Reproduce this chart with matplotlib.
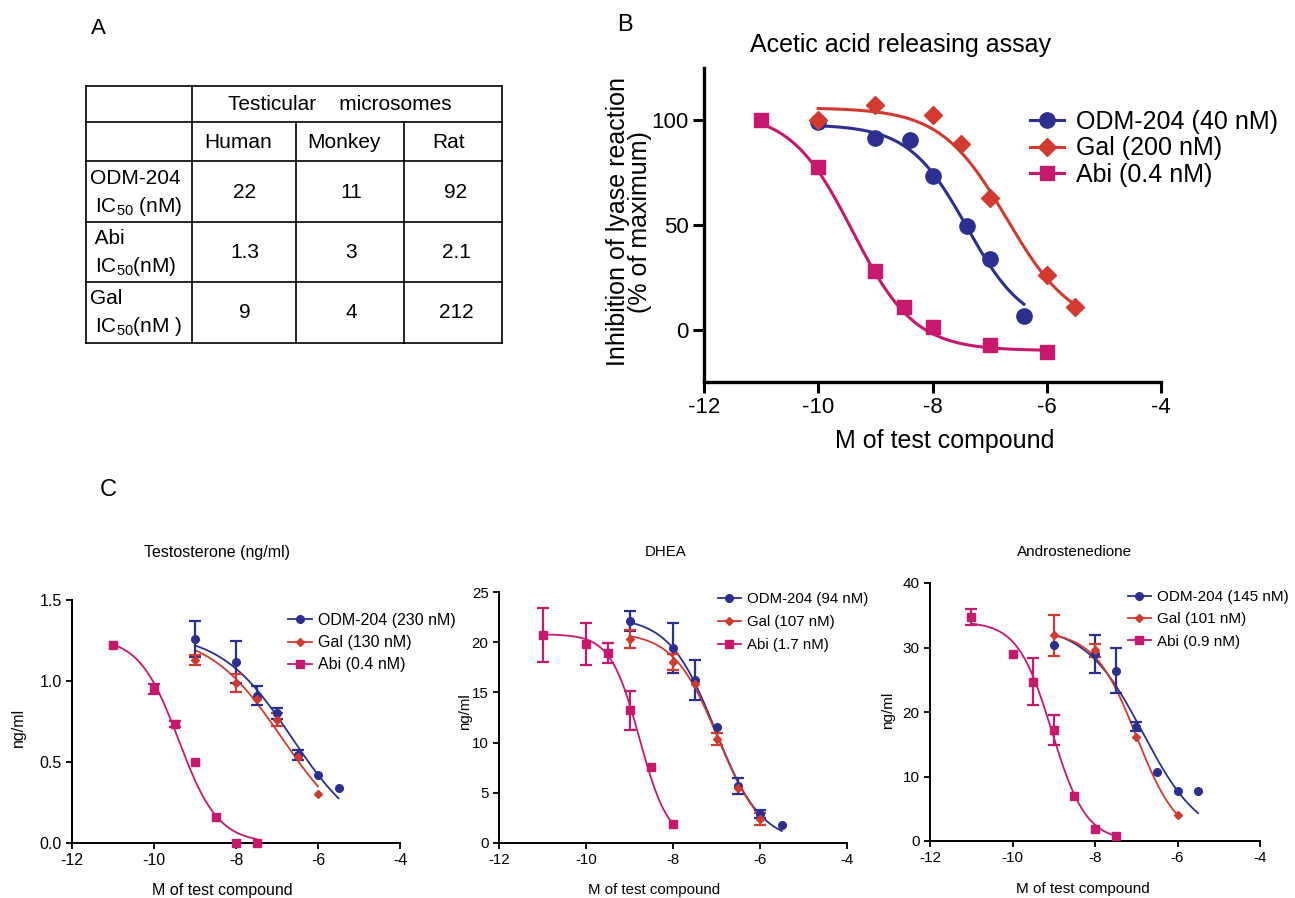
import numpy as np
import matplotlib
matplotlib.use("Agg")
import matplotlib.pyplot as plt

plt.rcParams['font.family'] = ['Liberation Sans', 'DejaVu Sans']
plt.rcParams['mathtext.fontset'] = 'custom'
plt.rcParams['mathtext.rm'] = 'Liberation Sans'
plt.rcParams['axes.unicode_minus'] = False

W, H = 1295, 898

BLUE = '#2b2f90'
RED = '#d23a30'
MAG = '#c8186e'

# ---- panel A table ----
tbl_header = "Testicular    microsomes"
tbl_species = ["Human", "Monkey", "Rat"]
tbl_rows = [("ODM-204", "IC$_{50}$ (nM)"), (" Abi", "IC$_{50}$(nM)"), ("Gal", "IC$_{50}$(nM )")]
tbl_values = [["22", "11", "92"], ["1.3", "3", "2.1"], ["9", "4", "212"]]

# ---- panel B: acetic acid releasing assay ----
b_names = ["ODM-204", "Gal", "Abi"]
b_ic50 = [40, 200, 0.4]
b_odm_x = [-10, -9, -8.4, -8, -7.4, -7, -6.4]
b_odm_y = [99, 91.5, 90.4, 73.6, 49.6, 33.6, 6.6]
b_gal_x = [-10, -9, -8, -7.5, -7, -6, -5.5]
b_gal_y = [100, 107.2, 102.7, 88.8, 62.7, 26.3, 10.9]
b_abi_x = [-11, -10, -9, -8.5, -8, -7, -6]
b_abi_y = [100, 77.6, 27.8, 10.9, 1.1, -7.2, -10.9]
b_fit = [(98, 0, 0.85), (106, 0, 0.75), (104, -10, 0.8)]  # top, bottom, hill

# ---- panel C ----
c_titles = ["Testosterone (ng/ml)", "DHEA", "Androstenedione"]
c_ic50 = [[230, 130, 0.4], [94, 107, 1.7], [145, 101, 0.9]]

t_odm_x = [-9, -8, -7.5, -7, -6.5, -6, -5.5]
t_odm_y = [1.26, 1.12, 0.91, 0.80, 0.545, 0.42, 0.34]
t_odm_e = [0.11, 0.13, 0.06, 0.035, 0.03, 0, 0]
t_gal_x = [-9, -8, -7.5, -7, -6.5, -6]
t_gal_y = [1.13, 0.99, 0.89, 0.76, 0.53, 0.30]
t_gal_e = [0.03, 0.055, 0, 0.04, 0, 0]
t_abi_x = [-11, -10, -9.5, -9, -8.5, -8, -7.5]
t_abi_y = [1.22, 0.95, 0.735, 0.50, 0.16, 0.0, 0.0]
t_abi_e = [0, 0.03, 0.02, 0, 0, 0, 0]

d_odm_x = [-9, -8, -7.5, -7, -6.5, -6, -5.5]
d_odm_y = [22.1, 19.4, 16.2, 11.6, 5.7, 2.9, 1.8]
d_odm_e = [1.0, 2.5, 2.0, 0, 0.8, 0.4, 0]
d_gal_x = [-9, -8, -7.5, -7, -6.5, -6]
d_gal_y = [20.3, 18.0, 15.8, 10.4, 5.5, 2.4]
d_gal_e = [0.9, 0.8, 0, 0.6, 0, 0.6]
d_abi_x = [-11, -10, -9.5, -9, -8.5, -8]
d_abi_y = [20.7, 19.8, 18.9, 13.2, 7.55, 1.9]
d_abi_e = [2.7, 2.1, 1.0, 1.9, 0, 0]

a_odm_x = [-9, -8, -7.5, -7, -6.5, -6, -5.5]
a_odm_y = [30.4, 29.0, 26.4, 17.7, 10.7, 7.7, 7.7]
a_odm_e = [0, 3.0, 3.5, 0.7, 0, 0, 0]
a_gal_x = [-9, -8, -7, -6]
a_gal_y = [31.9, 29.6, 16.2, 4.0]
a_gal_e = [3.2, 1.0, 0, 0]
a_abi_x = [-11, -10, -9.5, -9, -8.5, -8, -7.5]
a_abi_y = [34.7, 29.0, 24.7, 17.2, 7.0, 1.9, 0.7]
a_abi_e = [1.2, 0, 3.6, 2.3, 0, 0, 0]

c_fit = [[(1.3, 0, 0.5), (1.3, 0, 0.49), (1.27, 0, 0.9)],
         [(22.5, 0, 0.82), (21, 0, 0.85), (20.8, 0, 1.3)],
         [(33.5, 0, 0.62), (32.5, 0, 0.85), (34, 0, 1.05)]]


def four_pl(x, ic50_nm, top, bottom, hill):
    log_ic50 = np.log10(ic50_nm * 1e-9)
    return bottom + (top - bottom) / (1 + 10 ** ((x - log_ic50) * hill))


def rect(l, t, r, b):
    return [l / W, 1 - b / H, (r - l) / W, (b - t) / H]


def ax_coords(box, px, py):
    l, t, r, b = box
    return (px - l) / (r - l), (b - py) / (b - t)


fig = plt.figure(figsize=(W / 100, H / 100), dpi=100)

# ---------- A: table drawn in pixel coordinates ----------
axt = fig.add_axes([0, 0, 1, 1])
axt.set_xlim(0, W)
axt.set_ylim(H, 0)
axt.axis('off')
col_edges = [86, 192, 296, 404, 502]
row_edges = [86, 122, 161, 222, 282, 343]
lw = 1.2
for y in row_edges:
    axt.plot([col_edges[0], col_edges[-1]], [y, y], color='black', lw=lw)
for x in [col_edges[0], col_edges[1], col_edges[-1]]:
    axt.plot([x, x], [row_edges[0], row_edges[-1]], color='black', lw=lw)
for x in col_edges[2:4]:
    axt.plot([x, x], [row_edges[1], row_edges[-1]], color='black', lw=lw)
tfs = 15
axt.text(340, 104, tbl_header, fontsize=tfs, ha='center', va='center')
col_cx = [238, 344, 449]
for cx, name in zip(col_cx, tbl_species):
    axt.text(cx, 142, name, fontsize=tfs, ha='center', va='center')
row_cy = [192, 252, 312]
for i, (cy, (nm, unit)) in enumerate(zip(row_cy, tbl_rows)):
    axt.text(90, cy - 13, nm, fontsize=tfs, ha='left', va='center')
    axt.text(95, cy + 14, unit, fontsize=tfs, ha='left', va='center')
    for cx, v in zip(col_cx, tbl_values[i]):
        axt.text(cx + 7, cy, v, fontsize=tfs, ha='center', va='center')

fig.text(98 / W, 1 - 28 / H, "A", fontsize=16, ha='center', va='center')
fig.text(625 / W, 1 - 25 / H, "B", fontsize=17, ha='center', va='center')
fig.text(108 / W, 1 - 490 / H, "C", fontsize=17, ha='center', va='center')

# ---------- B ----------
bbox = (704, 68, 1161, 382)
axb = fig.add_axes(rect(*bbox))
b_series = [(b_odm_x, b_odm_y, BLUE, 'o', 11), (b_gal_x, b_gal_y, RED, 'D', 9.5),
            (b_abi_x, b_abi_y, MAG, 's', 10)]
handles = []
for (xs, ys, col, mk, ms), name, ic, (top, bot, hill) in zip(b_series, b_names, b_ic50, b_fit):
    xx = np.linspace(min(xs), max(xs), 200)
    axb.plot(xx, four_pl(xx, ic, top, bot, hill), color=col, lw=2.2, zorder=2)
    axb.plot(xs, ys, ls='none', marker=mk, ms=ms, color=col, mec=col, zorder=3, clip_on=False)
    h, = axb.plot([], [], color=col, lw=2.2, marker=mk, ms=ms, label=f"{name} ({ic:g} nM)")
    handles.append(h)
axb.set_xlim(-12, -4)
axb.set_ylim(-25, 125)
axb.set_xticks([-12, -10, -8, -6, -4])
axb.set_yticks([0, 50, 100])
for s in ['top', 'right']:
    axb.spines[s].set_visible(False)
for s in ['left', 'bottom']:
    axb.spines[s].set_linewidth(2.4)
axb.tick_params(direction='out', length=8, width=2.2, labelsize=16, pad=3)
axb.set_xlabel("M of test compound", fontsize=18, va='center')
axb.xaxis.set_label_coords(*ax_coords(bbox, 945, 441))
axb.set_ylabel("Inhibition of lyase reaction\n(% of maximum)", fontsize=18,
               va='center', rotation_mode='default', linespacing=0.85)
axb.yaxis.set_label_coords(*ax_coords(bbox, 629, 222))
fig.text(900 / W, 1 - 52 / H, "Acetic acid releasing assay", fontsize=18,
         ha='center', va='baseline')
fig.legend(handles=handles, loc='upper left', bbox_to_anchor=(1030 / W, 1 - 110 / H),
           frameon=False, fontsize=18, borderpad=0, borderaxespad=0,
           handlelength=1.35, handletextpad=0.5, labelspacing=0.1)

# ---------- C ----------
c_boxes = [(72, 600, 400, 843), (499, 592, 847, 843), (930, 583, 1260, 841)]
c_ylims = [(0, 1.5), (0, 25), (0, 40)]
c_yticks = [[0.0, 0.5, 1.0, 1.5], [0, 5, 10, 15, 20, 25], [0, 10, 20, 30, 40]]
c_yfmt = ['{:.1f}', '{:g}', '{:g}']
c_data = [
    [(t_odm_x, t_odm_y, t_odm_e), (t_gal_x, t_gal_y, t_gal_e), (t_abi_x, t_abi_y, t_abi_e)],
    [(d_odm_x, d_odm_y, d_odm_e), (d_gal_x, d_gal_y, d_gal_e), (d_abi_x, d_abi_y, d_abi_e)],
    [(a_odm_x, a_odm_y, a_odm_e), (a_gal_x, a_gal_y, a_gal_e), (a_abi_x, a_abi_y, a_abi_e)],
]
c_title_pos = [(217, 553), (666, 552), (1075, 552)]
c_ylabel_pos = [(18, 727), (465, 712), (888, 710)]
c_xlabel_pos = [(222, 890), (654, 890), (1083, 889)]
c_leg_pos = [(288, 613), (718, 592), (1128, 590)]
c_fs = [11.5, 10.8, 11]
c_lsp = [0.45, 0.6, 0.55]
styles = [(BLUE, 'o', 5.5), (RED, 'D', 4.5), (MAG, 's', 5.5)]

for k, box in enumerate(c_boxes):
    ax = fig.add_axes(rect(*box))
    fs = c_fs[k]
    hs = []
    for (xs, ys, es), (col, mk, ms), name, ic, (top, bot, hill) in zip(
            c_data[k], styles, b_names, c_ic50[k], c_fit[k]):
        xx = np.linspace(min(xs), max(xs), 200)
        ax.plot(xx, four_pl(xx, ic, top, bot, hill), color=col, lw=1.3, zorder=2)
        xs_a, ys_a, es_a = np.array(xs), np.array(ys), np.array(es)
        m = es_a > 0
        if m.any():
            ax.errorbar(xs_a[m], ys_a[m], yerr=es_a[m], ls='none', ecolor=col,
                        elinewidth=1.6, capsize=4, capthick=1.6, zorder=3, clip_on=False)
        ax.plot(xs, ys, ls='none', marker=mk, ms=ms, color=col, zorder=4, clip_on=False)
        h, = ax.plot([], [], color=col, lw=1.3, marker=mk, ms=ms, label=f"{name} ({ic:g} nM)")
        hs.append(h)
    ax.set_xlim(-12, -4)
    ax.set_ylim(*c_ylims[k])
    ax.set_xticks([-12, -10, -8, -6, -4])
    ax.set_yticks(c_yticks[k])
    ax.set_yticklabels([c_yfmt[k].format(v) for v in c_yticks[k]])
    for s in ['top', 'right']:
        ax.spines[s].set_visible(False)
    for s in ['left', 'bottom']:
        ax.spines[s].set_linewidth(1.4)
    ax.tick_params(direction='out', length=4.5, width=1.3, labelsize=fs, pad=3)
    ax.set_xlabel("M of test compound", fontsize=fs, va='center')
    ax.xaxis.set_label_coords(*ax_coords(box, *c_xlabel_pos[k]))
    ax.set_ylabel("ng/ml", fontsize=fs, va='center', rotation_mode='default')
    ax.yaxis.set_label_coords(*ax_coords(box, *c_ylabel_pos[k]))
    tx, ty = c_title_pos[k]
    fig.text(tx / W, 1 - ty / H, c_titles[k], fontsize=fs, ha='center', va='center')
    lx, ly = c_leg_pos[k]
    fig.legend(handles=hs, loc='upper left', bbox_to_anchor=(lx / W, 1 - ly / H),
               frameon=False, fontsize=fs, borderpad=0, borderaxespad=0,
               handlelength=1.5, handletextpad=0.4, labelspacing=c_lsp[k])

fig.savefig("out.png", dpi=100)
